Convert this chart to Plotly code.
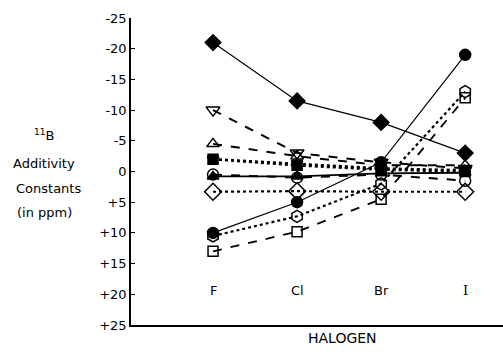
import plotly.graph_objects as go

halogens = ["F", "Cl", "Br", "I"]
xpos = [0, 1, 2, 3]

diamond_filled = [-21, -11.5, -8, -3]
circle_filled = [10, 5, -1.5, -19]
tri_down_open = [-10, -3, -1.5, -0.5]
tri_up_open = [-4.5, -2.5, -1, -1]
square_filled = [-2, -1, -0.3, 0]
tri_down_filled = [-2, -1.3, -0.5, -0.2]
tri_up_filled = [0.8, 0.8, 0.3, 0.2]
circle_open = [0.5, 1, 0.5, 1.5]
diamond_open = [3.3, 3.2, 3.3, 3.3]
hexagon_open = [10.5, 7.3, 2, -13]
square_open = [13, 9.8, 4.5, -12]

ytickvals = [-25, -20, -15, -10, -5, 0, 5, 10, 15, 20, 25]
yticktext = ["-25", "-20", "-15", "-10", "-5", "0", "+5", "+10", "+15", "+20", "+25"]

series = [
    (diamond_filled, "diamond", 12, "solid", 1.2),
    (circle_filled, "circle", 11, "solid", 1.2),
    (tri_down_open, "triangle-down-open", 12, "dash", 2),
    (tri_up_open, "triangle-up-open", 11, "dash", 2),
    (square_filled, "square", 10, "dot", 2.5),
    (tri_down_filled, "triangle-down", 10, "dot", 2.5),
    (tri_up_filled, "triangle-up", 10, "solid", 1.8),
    (circle_open, "circle-open", 11, "dash", 2),
    (diamond_open, "diamond-open", 13, "dot", 2.2),
    (hexagon_open, "hexagon-open", 12, "dot", 2.2),
    (square_open, "square-open", 10, "dash", 1.8),
]

fig = go.Figure()
for ys, sym, sz, dash, lw in series:
    fig.add_trace(go.Scatter(
        x=xpos, y=ys, mode="lines+markers",
        line=dict(color="black", width=lw, dash=dash),
        marker=dict(symbol=sym, size=sz, color="black",
                    line=dict(color="black", width=1.5)),
        cliponaxis=False, showlegend=False,
    ))

font = "DejaVu Sans, Liberation Sans, sans-serif"
for xi, h in zip(xpos, halogens):
    fam = "DejaVu Serif, serif" if h == "I" else font
    fig.add_annotation(x=xi, y=19.3, text=h, showarrow=False,
                       font=dict(size=13, color="black", family=fam))

fig.add_annotation(xref="paper", yref="paper", x=(342 - 131) / 372, y=-(338 - 325) / 307,
                   text="HALOGEN", showarrow=False, yanchor="middle",
                   font=dict(size=14, color="black", family=font))

left_lines = [("<sup>11</sup>B", 135, 44), ("Additivity", 163, 44), ("Constants", 188, 48), ("(in ppm)", 213, 44)]
for txt, py, px in left_lines:
    fig.add_annotation(xref="paper", yref="paper", x=(px - 131) / 372, y=1 - (py - 18) / 307,
                       text=txt, showarrow=False, xanchor="center", yanchor="middle",
                       font=dict(size=13, color="black", family=font))

fig.update_layout(
    width=503, height=352,
    margin=dict(l=131, r=0, t=18, b=27),
    paper_bgcolor="white", plot_bgcolor="white",
    xaxis=dict(range=[-0.976, 3.45], showgrid=False, zeroline=False,
               showticklabels=False, showline=True, linecolor="black",
               linewidth=1.5, ticks=""),
    yaxis=dict(range=[25, -25], showgrid=False, zeroline=False,
               tickvals=ytickvals, ticktext=yticktext,
               ticks="inside", ticklen=4, tickcolor="black",
               showline=True, linecolor="black", linewidth=1.5,
               tickfont=dict(size=13, color="black", family=font)),
)

fig.write_html("out.html")
